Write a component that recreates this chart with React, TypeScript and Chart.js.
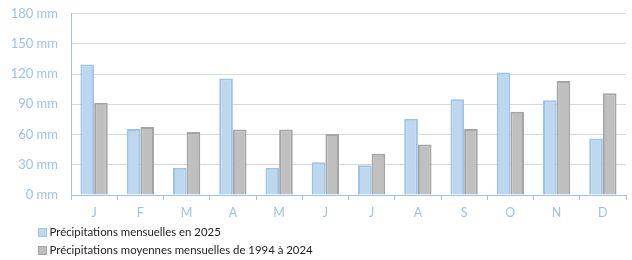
import React, { useEffect, useRef } from "react";
import { Chart, registerables } from "chart.js";

Chart.register(...registerables);

const months = ["J", "F", "M", "A", "M", "J", "J", "A", "S", "O", "N", "D"];
const rain2025 = [129.5, 65.5, 27, 115.5, 27, 32.5, 29.5, 75.5, 95, 121.5, 94, 56];
const rainAvg = [91.5, 67.5, 62.5, 65, 65, 60.5, 41, 50, 65.5, 82.5, 113, 101];
const seriesNames = [
  "Précipitations mensuelles en 2025",
  "Précipitations moyennes mensuelles de 1994 à 2024",
];
const yTicks = [0, 30, 60, 90, 120, 150, 180];

const FONT = "Lato, 'Open Sans', sans-serif";

const legendPlugin = {
  id: "stackedLegend",
  afterDraw(chart: any) {
    const ctx = chart.ctx;
    ctx.save();
    ctx.font = `11.4px ${FONT}`;
    ctx.textBaseline = "middle";
    ctx.textAlign = "left";
    chart.data.datasets.forEach((ds: any, i: number) => {
      const y = 232 + i * 18;
      ctx.fillStyle = ds.backgroundColor;
      ctx.strokeStyle = ds.borderColor;
      ctx.lineWidth = 1;
      ctx.fillRect(38, y - 4, 8, 8);
      ctx.strokeRect(38.5, y - 3.5, 8, 8);
      ctx.fillStyle = "#222";
      ctx.fillText(ds.label, 49.5, y + 0.5);
    });
    ctx.restore();
  },
};

export default function App() {
  const ref = useRef<HTMLCanvasElement>(null);
  useEffect(() => {
    document.body.style.margin = "0";
    const chart = new Chart(ref.current!, {
      type: "bar",
      data: {
        labels: months,
        datasets: [
          {
            label: seriesNames[0],
            data: rain2025,
            backgroundColor: "#BDD7EE",
            borderColor: "#9DC3E6",
            borderWidth: 2,
            categoryPercentage: 0.59,
            barPercentage: 1,
          },
          {
            label: seriesNames[1],
            data: rainAvg,
            backgroundColor: "#BFBFBF",
            borderColor: "#A5A5A5",
            borderWidth: 2,
            categoryPercentage: 0.59,
            barPercentage: 1,
          },
        ],
      },
      options: {
        animation: false,
        responsive: false,
        layout: { padding: { top: 13.5, right: 6, bottom: 36, left: 0 } },
        plugins: { legend: { display: false }, tooltip: { enabled: false } },
        scales: {
          x: {
            afterFit: (s: any) => {
              s.height = 29;
            },
            grid: {
              drawOnChartArea: false,
              drawTicks: true,
              tickLength: 5,
              color: "#9DC3E6",
            },
            border: { color: "#9DC3E6", width: 1 },
            ticks: {
              color: "#9DC3E6",
              font: { family: FONT, size: 12.5 },
              padding: 5,
            },
          },
          y: {
            min: 0,
            max: 180,
            afterFit: (s: any) => {
              s.width = 71;
            },
            afterBuildTicks: (s: any) => {
              s.ticks = yTicks.map((v) => ({ value: v }));
            },
            grid: {
              color: "#D9D9D9",
              drawTicks: true,
              tickLength: 13,
              tickColor: "rgba(0,0,0,0)",
              lineWidth: 1,
            },
            border: { color: "#9DC3E6", width: 1 },
            ticks: {
              color: "#9DC3E6",
              font: { family: FONT, size: 13 },
              padding: 0,
              callback: (v: any) => `${v} mm`,
            },
          },
        },
      },
      plugins: [legendPlugin],
    });
    return () => chart.destroy();
  }, []);
  return <canvas ref={ref} width={632} height={260} style={{ display: "block" }} />;
}
